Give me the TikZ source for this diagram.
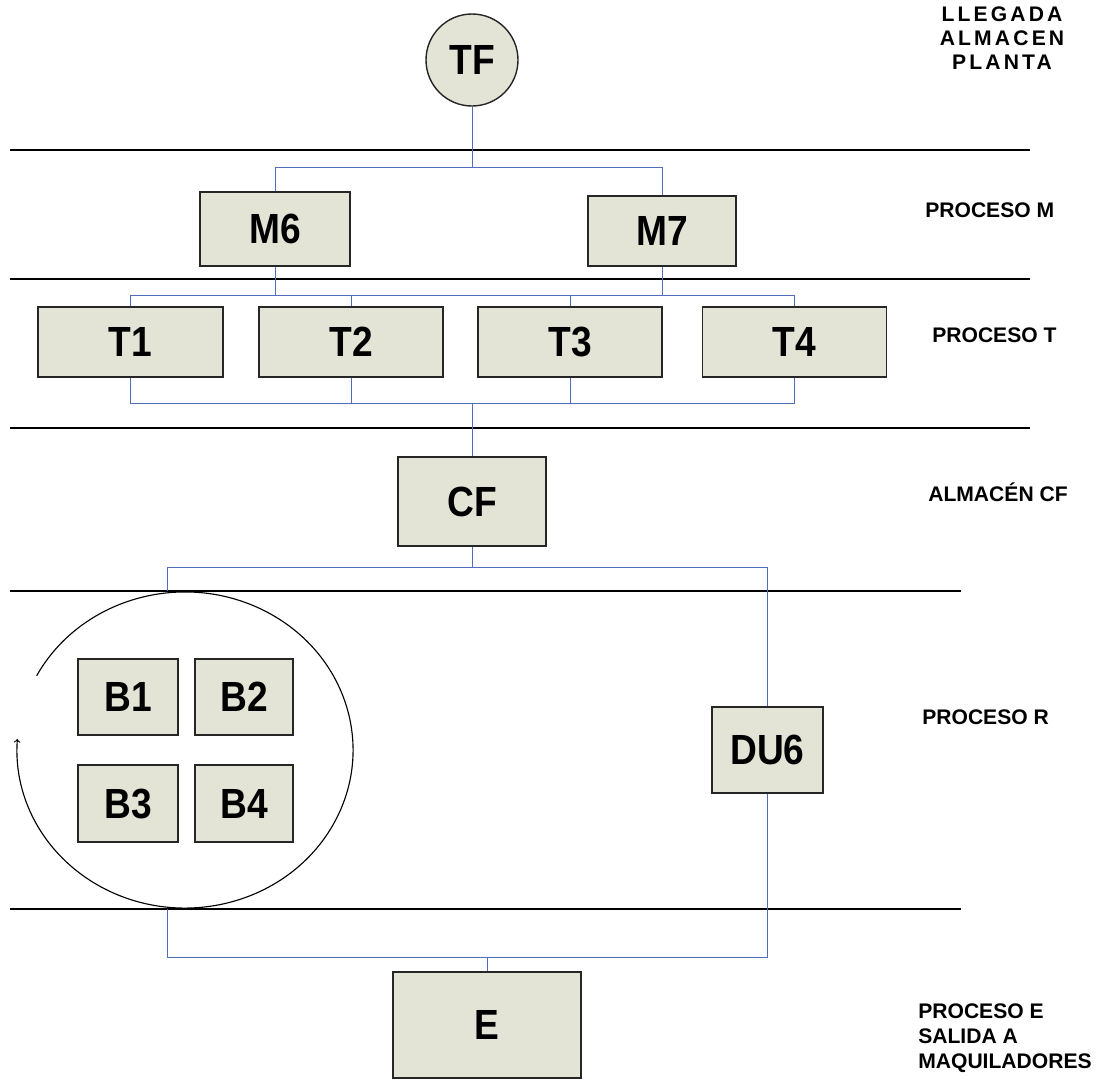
\documentclass[tikz,border=0pt]{standalone}
\usepackage{fontspec}
\setmainfont{Liberation Sans}
\newfontfamily\boxfont{Liberation Sans}[FakeStretch=0.88]
\newfontfamily\spacedfont{Liberation Sans}[LetterSpace=15]
\definecolor{boxfill}{RGB}{227,227,214}
\definecolor{linkblue}{RGB}{79,109,186}
\begin{document}
\begin{tikzpicture}
  [x=0.025cm,y=-0.025cm,
   box/.style 2 args={draw=black!85,line width=1pt,fill=boxfill,inner sep=0pt,
     minimum width=#1*0.025cm,minimum height=#2*0.025cm,
     font=\boxfont\bfseries\fontsize{30}{30}\selectfont},
   stage/.style={anchor=west,align=left,inner sep=0pt,
     font=\bfseries\fontsize{15}{17.8}\selectfont},
   link/.style={draw=linkblue,line width=0.7pt},
   band/.style={draw=black,line width=1pt}]
  \useasboundingbox (0,0) rectangle (1098,1081);

  % bands
  \draw[band] (10,150) -- (1030,150);
  \draw[band] (10,279) -- (1030,279);
  \draw[band] (10,428) -- (1030,428);
  \draw[band] (10,591) -- (961,591);
  \draw[band] (10,909) -- (961,909);

  % stations
  \node[box={92}{92},circle] (tf) at (472,60) {TF};
  \node[box={150}{74}] (m6) at (275,229) {M6};
  \node[box={148}{70}] (m7) at (662,231) {M7};
  \node[box={185}{70}] (t1) at (130.5,342) {T1};
  \node[box={184}{70}] (t2) at (351,342) {T2};
  \node[box={184}{70}] (t3) at (570,342) {T3};
  \node[box={184}{70}] (t4) at (794.5,342) {T4};
  \node[box={148}{89}] (cf) at (472,501.5) {CF};
  \node[box={100}{76}] (b1) at (128,697) {B1};
  \node[box={98}{76}] (b2) at (244,697) {B2};
  \node[box={100}{77}] (b3) at (128,803.5) {B3};
  \node[box={98}{77}] (b4) at (244,803.5) {B4};
  \node[box={111}{86}] (du6) at (767.5,750) {DU6};
  \node[box={188}{106}] (e) at (487,1025) {E};

  % rotation round the B cells
  \draw[line width=0.8pt,->] (185,750) ++(152:4.2cm and 3.95cm)
    arc[start angle=152,end angle=-184,x radius=4.2cm,y radius=3.95cm];

  % links
  \coordinate (mbus) at (472,167);
  \draw[link] (tf) -- (mbus);
  \draw[link] (m6) -- (m6 |- mbus) -- (m7 |- mbus) -- (m7);

  \coordinate (tbus) at (472,295);
  \draw[link] (m6) -- (m6 |- tbus);
  \draw[link] (m7) -- (m7 |- tbus);
  \draw[link] (t1) -- (t1 |- tbus) -- (t4 |- tbus) -- (t4);
  \draw[link] (t2) -- (t2 |- tbus);
  \draw[link] (t3) -- (t3 |- tbus);

  \coordinate (cbus) at (472,403);
  \draw[link] (t1) -- (t1 |- cbus) -- (t4 |- cbus) -- (t4);
  \draw[link] (t2) -- (t2 |- cbus);
  \draw[link] (t3) -- (t3 |- cbus);
  \draw[link] (cbus) -- (cf);

  \coordinate (rbus) at (472,567);
  \coordinate (rtop) at (167,591);
  \draw[link] (cf) -- (rbus);
  \draw[link] (rtop) -- (rtop |- rbus) -- (du6 |- rbus) -- (du6);

  \coordinate (ebus) at (487,957);
  \coordinate (rbot) at (167,909);
  \draw[link] (rbot) -- (rbot |- ebus) -- (du6 |- ebus) -- (du6);
  \draw[link] (ebus) -- (e);

  % stage labels
  \node[align=center,inner sep=0pt,font=\spacedfont\bfseries\fontsize{15}{17}\selectfont]
    (lleg) at (1002,38) {LLEGADA\\ALMACEN\\PLANTA};
  \node[stage] (lm) at (925,210) {PROCESO M};
  \node[stage] (lt) at (932,335) {PROCESO T};
  \node[stage] (lc) at (928,492) {ALMACÉN CF};
  \node[stage] (lr) at (922,717) {PROCESO R};
  \node[stage] (le) at (918,1038) {PROCESO E\\SALIDA A\\MAQUILADORES};
\end{tikzpicture}
\end{document}
